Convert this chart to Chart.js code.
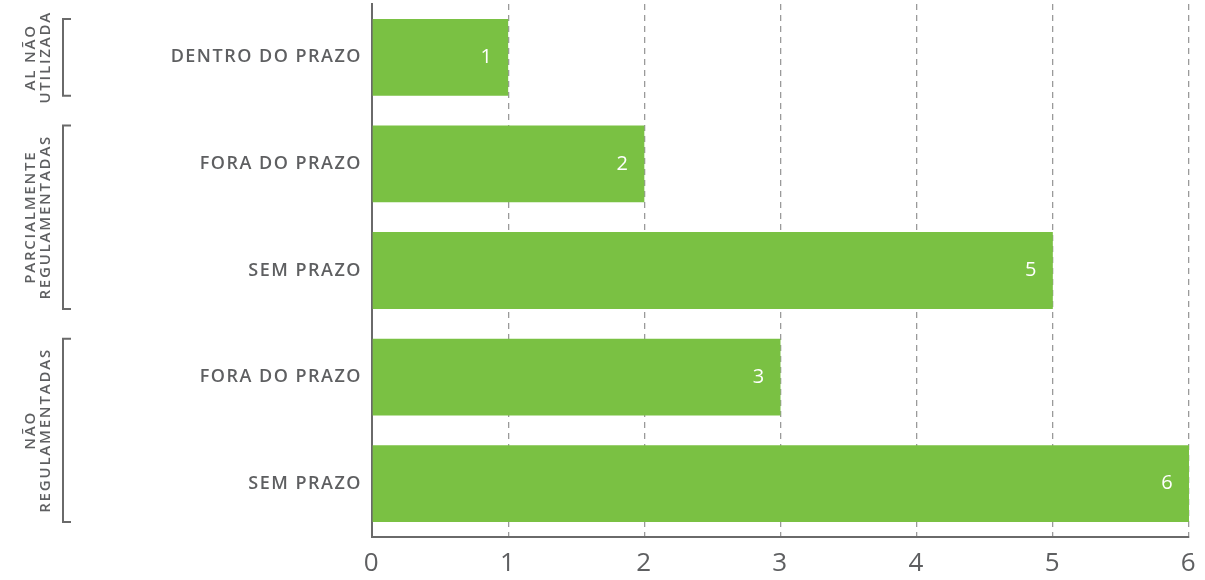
<!DOCTYPE html>
<html>
<head>
<meta charset="utf-8">
<script src="https://cdn.jsdelivr.net/npm/chart.js@4"></script>
<style>
  html, body { margin: 0; padding: 0; background: #ffffff; }
  #wrap { width: 1205px; height: 580px; }
</style>
</head>
<body>
<div id="wrap"><canvas id="chart" width="1205" height="580"></canvas></div>
<script>
// Chart data
const categories = ['DENTRO DO PRAZO', 'FORA DO PRAZO', 'SEM PRAZO', 'FORA DO PRAZO', 'SEM PRAZO'];
const values = [1, 2, 5, 3, 6];
const xTicks = [0, 1, 2, 3, 4, 5, 6];
const groupLabels = [['AL NÃO', 'UTILIZADA'], ['PARCIALMENTE', 'REGULAMENTADAS'], ['NÃO', 'REGULAMENTADAS']];
const groupSpans = [[0, 0], [1, 2], [3, 4]];

const GREEN = '#7ac143';
const TEXT = '#5e5f61';
const FONT = '"Open Sans", "DejaVu Sans", sans-serif';

// white value labels at the end of each bar
const valueLabels = {
    id: 'valueLabels',
    afterDatasetsDraw(chart) {
        const ctx = chart.ctx;
        const meta = chart.getDatasetMeta(0);
        ctx.save();
        ctx.letterSpacing = '0px';
        ctx.font = '400 20px ' + FONT;
        ctx.fillStyle = '#ffffff';
        ctx.textAlign = 'center';
        ctx.textBaseline = 'middle';
        meta.data.forEach((bar, i) => {
            ctx.fillText(String(values[i]), bar.x - 22, bar.y);
        });
        ctx.restore();
    },
};

// brackets and rotated group names on the left
const groupBrackets = {
    id: 'groupBrackets',
    afterDraw(chart) {
        const ctx = chart.ctx;
        const meta = chart.getDatasetMeta(0);
        ctx.save();
        ctx.strokeStyle = '#6a6a6a';
        ctx.lineWidth = 2;
        ctx.fillStyle = TEXT;
        ctx.font = '600 15px ' + FONT;
        ctx.letterSpacing = '1.8px';
        ctx.textAlign = 'center';
        ctx.textBaseline = 'middle';
        groupSpans.forEach(([a, b], g) => {
            const first = meta.data[a];
            const last = meta.data[b];
            const top = first.y - first.height / 2;
            const bottom = last.y + last.height / 2;
            ctx.beginPath();
            ctx.moveTo(71, top);
            ctx.lineTo(63, top);
            ctx.lineTo(63, bottom);
            ctx.lineTo(71, bottom);
            ctx.stroke();

            const mid = (top + bottom) / 2;
            const lines = groupLabels[g];
            ctx.save();
            ctx.translate(38, mid);
            ctx.rotate(-Math.PI / 2);
            lines.forEach((line, k) => {
                const off = (k - (lines.length - 1) / 2) * 15;
                ctx.fillText(line, 0, off);
            });
            ctx.restore();
        });
        ctx.restore();
    },
};

const spacing = {
    id: 'spacing',
    beforeDraw(chart) {
        chart.ctx.letterSpacing = '1.5px';
    },
};

new Chart(document.getElementById('chart'), {
    type: 'bar',
    data: {
        labels: categories,
        datasets: [{
            data: values,
            backgroundColor: GREEN,
            borderWidth: 0,
            barPercentage: 0.72,
            categoryPercentage: 1,
        }],
    },
    options: {
        indexAxis: 'y',
        responsive: false,
        animation: false,
        events: [],
        layout: { padding: { top: 4, right: 16, bottom: 0, left: 0 } },
        plugins: {
            legend: { display: false },
            tooltip: { enabled: false },
        },
        scales: {
            x: {
                min: 0,
                max: 6,
                afterBuildTicks: (scale) => {
                    scale.ticks = xTicks.map((v) => ({ value: v }));
                },
                afterFit: (scale) => {
                    scale.height = 43;
                    scale.paddingLeft = 0;
                    scale.paddingRight = 0;
                },
                grid: {
                    color: '#9a9a9a',
                    lineWidth: 1.3,
                    drawTicks: false,
                },
                border: {
                    display: true,
                    color: '#6a6a6a',
                    width: 2,
                    dash: [6, 5],
                },
                ticks: {
                    padding: 11,
                    color: TEXT,
                    font: { family: FONT, size: 26, weight: 400 },
                },
            },
            y: {
                afterFit: (scale) => {
                    scale.width = 372;
                    scale.paddingTop = 0;
                    scale.paddingBottom = 0;
                },
                grid: { display: false, drawTicks: false },
                border: { display: true, color: '#6a6a6a', width: 2 },
                ticks: {
                    padding: 10,
                    color: TEXT,
                    font: { family: FONT, size: 18, weight: 600 },
                },
            },
        },
    },
    plugins: [spacing, valueLabels, groupBrackets],
});
</script>
</body>
</html>
